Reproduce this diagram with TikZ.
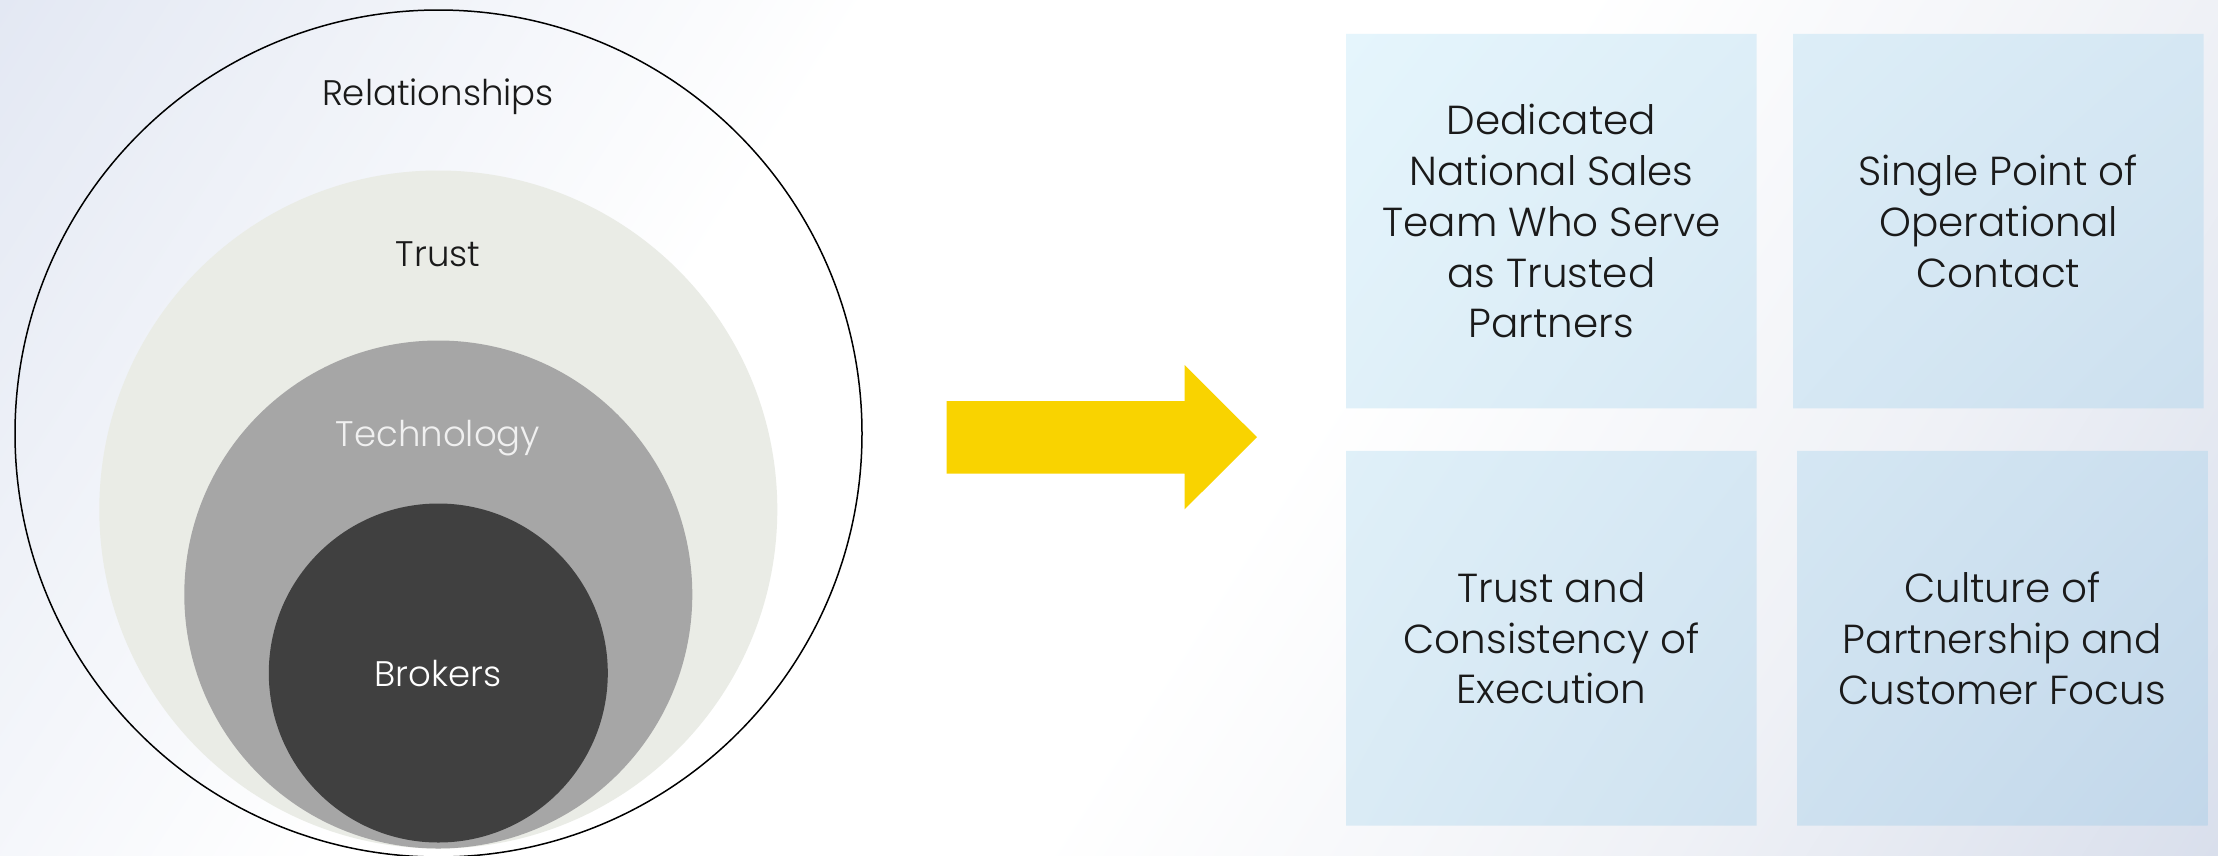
\documentclass[tikz,border=0pt]{standalone}
\usepackage{fontspec}
\setmainfont{Poppins Light}
\usetikzlibrary{shadings}
\pgfdeclarelayer{bg}
\pgfdeclarelayer{mid}
\pgfsetlayers{bg,mid,main}
\definecolor{bgA}{HTML}{E3E8F3}
\definecolor{bgC}{HTML}{EFF1F6}
\definecolor{bgD}{HTML}{D9DFEC}
\definecolor{trustc}{HTML}{EAECE6}
\definecolor{techc}{HTML}{A6A6A6}
\definecolor{brokc}{HTML}{404040}
\definecolor{techtext}{HTML}{F0F0F0}
\definecolor{arrowc}{HTML}{F9D300}
\definecolor{boxUL}{HTML}{E5F5FC}
\definecolor{boxUR}{HTML}{D5E7F3}
\definecolor{boxLL}{HTML}{DAEBF5}
\definecolor{boxLR}{HTML}{C2D7EA}
\definecolor{ink}{HTML}{1A1A1A}
\begin{document}
\begin{tikzpicture}[x=1pt,y=-1pt,
  ring/.style={circle, inner sep=0pt, outer sep=0pt, minimum size=#1},
  circlabel/.style={anchor=base, font=\fontsize{35.5}{40}\selectfont, inner sep=0pt},
  boxnode/.style={rectangle, inner sep=0pt, outer sep=0pt, minimum width=410.5pt, minimum height=374.6pt},
  boxtext/.style={align=center, font=\fontsize{40.5}{50.7}\selectfont, text=ink, inner sep=0pt, text depth=0pt}
]
\useasboundingbox (0,0) rectangle (2218,855);
% background
\begin{pgfonlayer}{bg}
\fill[white] (0,0) rectangle (2218,855);
\begin{scope}
\clip (0,0) rectangle (2218,855);
\begin{scope}[transform canvas={xshift=1050pt, rotate=-32.75}]
 \fill[bgA] (-1300,-1800) rectangle (-883,1800);
 \shade[left color=bgA, right color=white] (-884,-1800) rectangle (-150,1800);
 \shade[left color=white, right color=bgC] (450,-1800) rectangle (983,1800);
 \shade[left color=bgC, right color=bgD] (982,-1800) rectangle (1446,1800);
 \fill[bgD] (1445,-1800) rectangle (2000,1800);
\end{scope}
\end{scope}
\end{pgfonlayer}
% circles
\node[ring=847pt, draw=black, line width=1.5pt] (rel) at (438.5,433.5) {};
\node[ring=678pt, fill=trustc] (trust) at (438.3,509.5) {};
\node[ring=508pt, fill=techc] (tech) at (438.3,594.5) {};
\node[ring=339pt, fill=brokc] (brok) at (438.3,673) {};
\node[circlabel, text=ink] (relT) at (438,105.7) {Relationships};
\node[circlabel, text=ink] (trustT) at (438,266) {Trust};
\node[circlabel, text=techtext] (techT) at (438,446) {Technology};
\node[circlabel, text=white] (brokT) at (438,686) {Brokers};
% arrow
\fill[arrowc] (946.5,401) -- (1184.5,401) -- (1184.5,365) -- (1257,437.2)
  -- (1184.5,509.4) -- (1184.5,473.5) -- (946.5,473.5) -- cycle;
% boxes
\node[boxnode] (b1) at (1551.4,221.1) {};
\node[boxnode] (b2) at (1998.4,221.1) {};
\node[boxnode] (b3) at (1551.4,638.2) {};
\node[boxnode] (b4) at (2002.4,638.2) {};
\begin{pgfonlayer}{mid}
\begin{scope}
\clip (b1.north west) rectangle (b1.south east)
      (b2.north west) rectangle (b2.south east)
      (b3.north west) rectangle (b3.south east)
      (b4.north west) rectangle (b4.south east);
\shade[upper left=boxUL, upper right=boxUR, lower left=boxLL, lower right=boxLR]
  (b1.north west) rectangle (b4.south east);
\end{scope}
\end{pgfonlayer}
\node[boxtext] (t1) at (b1) {Dedicated\\National Sales\\Team Who Serve\\as Trusted\\Partners};
\node[boxtext] (t2) at (b2) {Single Point of\\Operational\\Contact};
\node[boxtext] (t3) at (b3) {Trust and\\Consistency of\\Execution};
\node[boxtext] (t4) at (b4) {Culture of\\Partnership and\\Customer Focus};
\end{tikzpicture}
\end{document}
